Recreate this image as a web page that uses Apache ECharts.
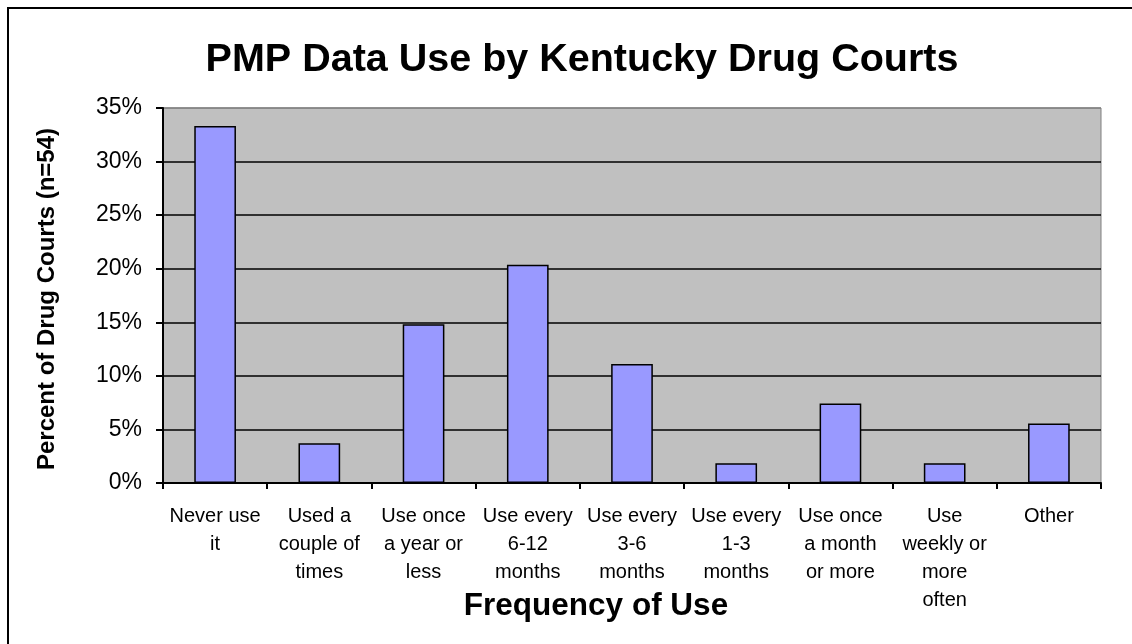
<!DOCTYPE html>
<html>
<head>
<meta charset="utf-8">
<script src="https://cdn.jsdelivr.net/npm/echarts@6/dist/echarts.min.js"></script>
<style>
html,body{margin:0;padding:0;background:#fff;}
#chart{width:1132px;height:644px;}
</style>
</head>
<body>
<div id="chart"></div>
<script>
// Survey responses from 54 drug courts, as percent of courts
const categories = [
  'Never use\nit',
  'Used a\ncouple of\ntimes',
  'Use once\na year or\nless',
  'Use every\n6-12\nmonths',
  'Use every\n3-6\nmonths',
  'Use every\n1-3\nmonths',
  'Use once\na month\nor more',
  'Use\nweekly or\nmore\noften',
  'Other'
];
const percentValues = [33.33, 3.70, 14.81, 20.37, 11.11, 1.85, 7.41, 1.85, 5.56];
const yTicks = { min: 0, max: 35, interval: 5 };

const FONT = 'Liberation Sans, Arial, sans-serif';
const chart = echarts.init(document.getElementById('chart'));

chart.setOption({
  animation: false,
  backgroundColor: '#ffffff',
  title: {
    text: 'PMP Data Use by Kentucky Drug Courts',
    left: 577,
    top: 35,
    textAlign: 'center',
    textStyle: { fontFamily: FONT, fontSize: 39.5, fontWeight: 'bold', color: '#000' }
  },
  grid: {
    left: 163, right: 31, top: 108, bottom: 161,
    show: true,
    backgroundColor: '#c0c0c0',
    borderColor: '#808080',
    borderWidth: 1
  },
  xAxis: {
    type: 'category',
    data: categories,
    axisLine: { lineStyle: { color: '#000', width: 2 } },
    axisTick: { show: true, length: 6, lineStyle: { color: '#000', width: 2 } },
    axisLabel: {
      margin: 19,
      interval: 0,
      fontFamily: FONT,
      fontSize: 20,
      lineHeight: 28,
      color: '#000'
    }
  },
  yAxis: {
    type: 'value',
    min: yTicks.min,
    max: yTicks.max,
    interval: yTicks.interval,
    axisLine: { show: true, lineStyle: { color: '#000', width: 2 } },
    axisTick: { show: true, length: 7, lineStyle: { color: '#000', width: 2 } },
    axisLabel: {
      margin: 21,
      fontFamily: FONT,
      fontSize: 23,
      color: '#000',
      padding: [6, 0, 0, 0],
      formatter: v => v + '%'
    },
    splitLine: {
      show: true,
      lineStyle: {
        color: ['#000', '#000', '#000', '#000', '#000', '#000', '#000', '#808080'],
        width: 1.5
      }
    }
  },
  series: [{
    type: 'bar',
    data: percentValues,
    barWidth: '40%',
    itemStyle: { color: '#9999ff', borderColor: '#000', borderWidth: 1.5 }
  }],
  graphic: [
    {
      type: 'text',
      x: 47, y: 299,
      rotation: Math.PI / 2,
      style: {
        text: 'Percent of Drug Courts (n=54)',
        font: 'bold 24px ' + FONT,
        fill: '#000',
        textAlign: 'center',
        textVerticalAlign: 'middle'
      }
    },
    {
      type: 'text',
      x: 596, y: 606,
      style: {
        text: 'Frequency of Use',
        font: 'bold 31.5px ' + FONT,
        fill: '#000',
        textAlign: 'center',
        textVerticalAlign: 'middle'
      }
    },
    {
      // frame: top and left edges only
      type: 'polyline',
      shape: { points: [[8, 644], [8, 8], [1132, 8]] },
      style: { fill: 'none', stroke: '#000', lineWidth: 2 }
    }
  ]
});
</script>
</body>
</html>
